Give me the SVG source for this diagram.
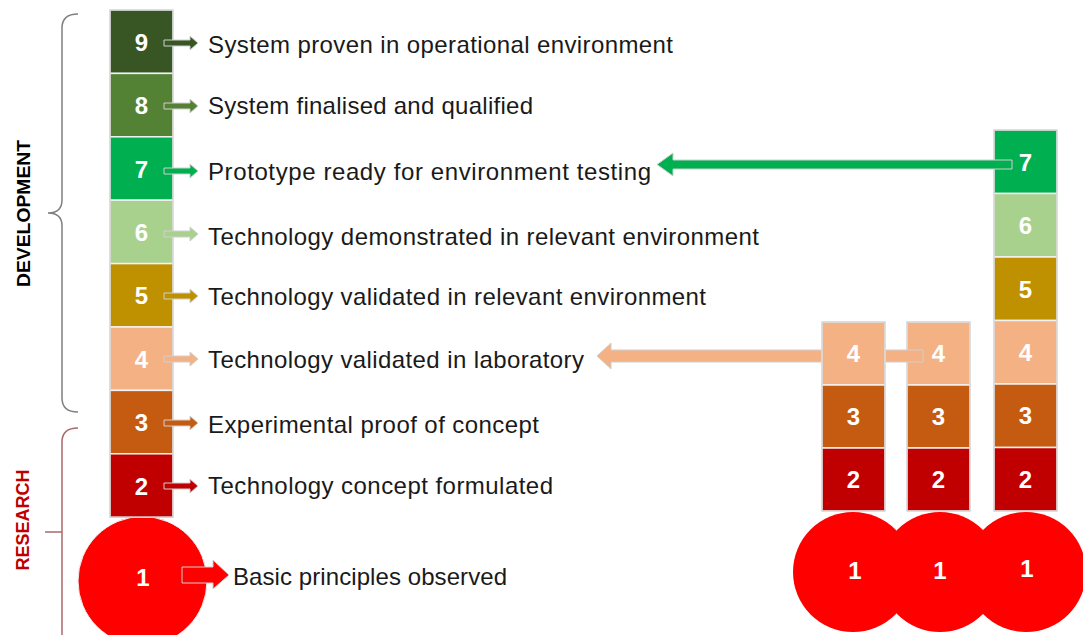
<svg xmlns="http://www.w3.org/2000/svg" width="1083" height="635" viewBox="0 0 1083 635">
  <defs>
    <style>
      .lbl { font-family: "Liberation Sans", Arial, sans-serif; font-size: 24px; fill: #1a1a1a; }
      .num { font-family: "Liberation Sans", Arial, sans-serif; font-size: 24px; font-weight: bold; fill: #ffffff; text-anchor: middle; }
      .side { font-family: "Liberation Sans", Arial, sans-serif; font-size: 19px; font-weight: bold; text-anchor: middle; }
      .cell { stroke: #f2f2f2; stroke-width: 1.5; }
      .frame { fill: none; stroke: #c8c8c8; stroke-width: 1; }
      .arr { stroke: #cfcfcf; stroke-width: 1; stroke-linejoin: miter; }
      .c9 { fill: #375623; } .c8 { fill: #548235; } .c7 { fill: #00b050; }
      .c6 { fill: #a9d18e; } .c5 { fill: #bf9000; } .c4 { fill: #f4b183; }
      .c3 { fill: #c55a11; } .c2 { fill: #c00000; } .c1 { fill: #ff0000; }
    </style>
    <!-- small block arrow pointing right, origin at shaft start / centre line -->
    <path id="tick" d="M0,-3 L26,-3 L26,-7 L34,0 L26,7 L26,3 L0,3 Z"/>
  </defs>

  <rect width="1083" height="635" fill="#ffffff"/>

  <!-- side brackets and labels -->
  <g id="development-bracket">
    <path d="M78,14 Q62,14 62,28 L62,200 Q62,213 48,213 Q62,213 62,226 L62,398 Q62,412 78,412" fill="none" stroke="#7f7f7f" stroke-width="1.5"/>
    <text class="side" fill="#000000" transform="translate(30,213.5) rotate(-90)" textLength="147" lengthAdjust="spacingAndGlyphs">DEVELOPMENT</text>
  </g>
  <g id="research-bracket">
    <path d="M78,428 Q62,428 62,442 L62,640 M62,532 L45,532" fill="none" stroke="#a86a68" stroke-width="1.5"/>
    <text class="side" fill="#c00000" transform="translate(29,520) rotate(-90)" textLength="101" lengthAdjust="spacingAndGlyphs">RESEARCH</text>
  </g>

  <!-- main scale -->
  <g id="scale-main">
    <circle class="c1" cx="142.5" cy="581" r="64.5" stroke="#f0f0f0" stroke-width="1"/>
    <rect class="cell c9" x="110" y="10" width="63" height="63.4"/>
    <rect class="cell c8" x="110" y="73.4" width="63" height="63.4"/>
    <rect class="cell c7" x="110" y="136.8" width="63" height="63.4"/>
    <rect class="cell c6" x="110" y="200.2" width="63" height="63.4"/>
    <rect class="cell c5" x="110" y="263.6" width="63" height="63.4"/>
    <rect class="cell c4" x="110" y="327" width="63" height="63.4"/>
    <rect class="cell c3" x="110" y="390.4" width="63" height="63.4"/>
    <rect class="cell c2" x="110" y="453.8" width="63" height="63.4"/>
    <rect class="frame" x="110" y="10" width="63" height="507.2"/>
    <text class="num" x="141.5" y="51">9</text>
    <text class="num" x="141.5" y="114">8</text>
    <text class="num" x="141.5" y="178">7</text>
    <text class="num" x="141.5" y="241">6</text>
    <text class="num" x="141.5" y="304">5</text>
    <text class="num" x="141.5" y="368">4</text>
    <text class="num" x="141.5" y="431">3</text>
    <text class="num" x="141.5" y="495">2</text>
    <text class="num" x="143" y="586">1</text>
  </g>

  <!-- level descriptions with their pointer arrows -->
  <g id="level-9">
    <use href="#tick" class="arr c9" x="164" y="43"/>
    <text class="lbl" x="208" y="53" textLength="465" lengthAdjust="spacing">System proven in operational environment</text>
  </g>
  <g id="level-8">
    <use href="#tick" class="arr c8" x="164" y="106"/>
    <text class="lbl" x="208" y="114" textLength="325" lengthAdjust="spacing">System finalised and qualified</text>
  </g>
  <g id="level-7">
    <use href="#tick" class="arr c7" x="164" y="171"/>
    <text class="lbl" x="208" y="180" textLength="443" lengthAdjust="spacing">Prototype ready for environment testing</text>
  </g>
  <g id="level-6">
    <use href="#tick" class="arr c6" x="164" y="234"/>
    <text class="lbl" x="208" y="245" textLength="551" lengthAdjust="spacing">Technology demonstrated in relevant environment</text>
  </g>
  <g id="level-5">
    <use href="#tick" class="arr c5" x="164" y="296"/>
    <text class="lbl" x="208" y="305" textLength="498" lengthAdjust="spacing">Technology validated in relevant environment</text>
  </g>
  <g id="level-4">
    <use href="#tick" class="arr c4" x="164" y="359"/>
    <text class="lbl" x="208" y="368" textLength="376" lengthAdjust="spacing">Technology validated in laboratory</text>
  </g>
  <g id="level-3">
    <use href="#tick" class="arr c3" x="164" y="423"/>
    <text class="lbl" x="208" y="433" textLength="331" lengthAdjust="spacing">Experimental proof of concept</text>
  </g>
  <g id="level-2">
    <use href="#tick" class="arr c2" x="164" y="486"/>
    <text class="lbl" x="208" y="494" textLength="345" lengthAdjust="spacing">Technology concept formulated</text>
  </g>
  <g id="level-1">
    <path class="arr c1" d="M182,567 L213,567 L213,560 L229,575 L213,589 L213,583 L182,583 Z" stroke="#f0f0f0"/>
    <text class="lbl" x="233" y="585" textLength="274" lengthAdjust="spacing">Basic principles observed</text>
  </g>

  <!-- project stack B (reaches level 4) -->
  <g id="stack-b">
    <rect class="cell c4" x="907" y="322" width="63" height="63"/>
    <rect class="cell c3" x="907" y="385" width="63" height="63"/>
    <rect class="cell c2" x="907" y="448" width="63" height="63"/>
    <rect class="frame" x="907" y="322" width="63" height="189"/>
    <text class="num" x="938.5" y="362">4</text>
    <text class="num" x="938.5" y="425">3</text>
    <text class="num" x="938.5" y="488">2</text>
  </g>

  <!-- project stack C (reaches level 7) -->
  <g id="stack-c">
    <rect class="cell c7" x="994" y="130" width="63" height="63.5"/>
    <rect class="cell c6" x="994" y="193.5" width="63" height="63.5"/>
    <rect class="cell c5" x="994" y="257" width="63" height="63.5"/>
    <rect class="cell c4" x="994" y="320.5" width="63" height="63.5"/>
    <rect class="cell c3" x="994" y="384" width="63" height="63.5"/>
    <rect class="cell c2" x="994" y="447.5" width="63" height="63.5"/>
    <rect class="frame" x="994" y="130" width="63" height="381"/>
    <text class="num" x="1025.5" y="171">7</text>
    <text class="num" x="1025.5" y="234">6</text>
    <text class="num" x="1025.5" y="298">5</text>
    <text class="num" x="1025.5" y="361">4</text>
    <text class="num" x="1025.5" y="424">3</text>
    <text class="num" x="1025.5" y="488">2</text>
  </g>

  <!-- connectors from the project stacks back to the scale -->
  <g id="connectors">
    <path class="arr c7" d="M1012,160 L673,160 L673,153 L657,164.5 L673,176 L673,169 L1012,169 Z" stroke="#d9d9d9"/>
    <path class="arr c4" d="M923,350 L611,350 L611,343 L597,356 L611,369 L611,362 L923,362 Z" stroke="#d9d9d9"/>
  </g>

  <!-- project stack A (reaches level 4) -->
  <g id="stack-a">
    <rect class="cell c4" x="822" y="322" width="63" height="63"/>
    <rect class="cell c3" x="822" y="385" width="63" height="63"/>
    <rect class="cell c2" x="822" y="448" width="63" height="63"/>
    <rect class="frame" x="822" y="322" width="63" height="189"/>
    <text class="num" x="853.5" y="362">4</text>
    <text class="num" x="853.5" y="425">3</text>
    <text class="num" x="853.5" y="488">2</text>
  </g>

  <!-- base bulbs of the project stacks -->
  <g id="bulbs">
    <circle class="c1" cx="1026" cy="572" r="60"/>
    <circle class="c1" cx="940" cy="572" r="60"/>
    <circle class="c1" cx="853" cy="572" r="60"/>
    <text class="num" x="855" y="579">1</text>
    <text class="num" x="940" y="579">1</text>
    <text class="num" x="1027" y="577">1</text>
  </g>
</svg>
